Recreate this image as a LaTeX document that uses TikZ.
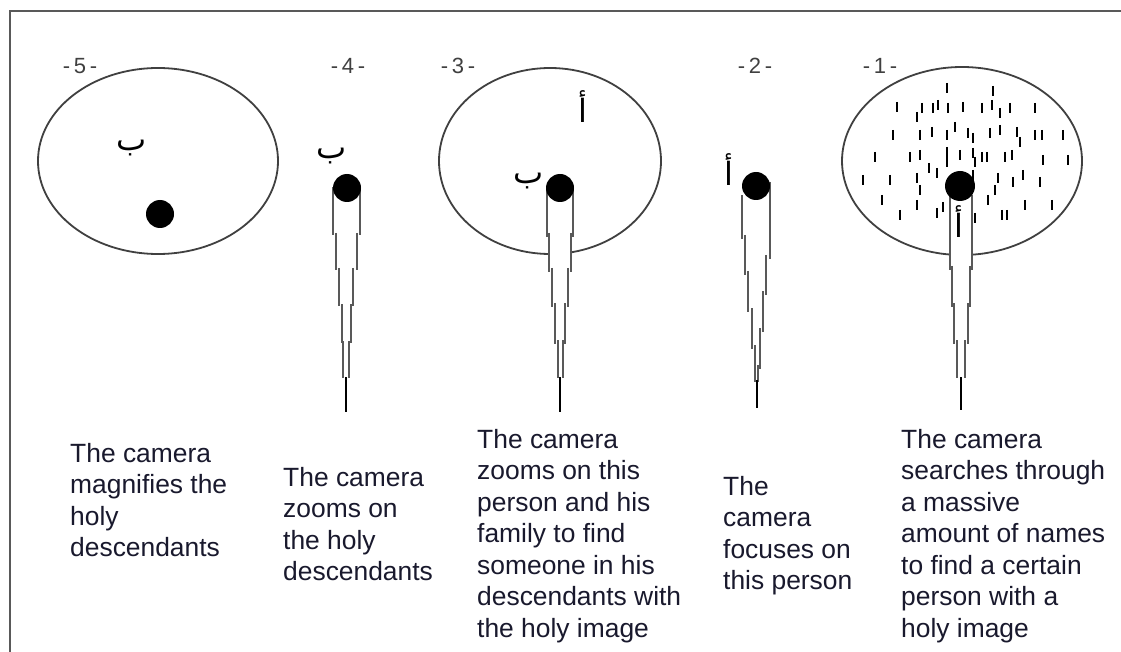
\documentclass[tikz,border=0pt]{standalone}
\usepackage{fontspec}
\setmainfont{Liberation Sans}
\newfontfamily\arabicfont[Script=Arabic]{DejaVu Sans}
\TeXXeTstate=1
\definecolor{ink}{RGB}{25,25,45}
\begin{document}
\begin{tikzpicture}[x=1pt,y=-1pt,
  outline/.style={line width=1.8pt, draw=black!75},
  stalkline/.style={line width=1.6pt, draw=black!65},
  caption/.style={anchor=north west, align=left, inner sep=0pt, font=\fontsize{26.4}{31.5}\selectfont, text=ink},
  num/.style={font=\fontsize{22}{24}\selectfont, text=black!75, inner sep=0pt},
  ar/.style={font=\arabicfont\fontsize{32}{34}\selectfont, inner sep=0pt},
  blob/.style={circle, fill=black, minimum size=28pt, inner sep=0pt},
  namemark/.style={line width=2pt, draw=black}]
\useasboundingbox (0,0) rectangle (1121,652);
\fill[white] (0,0) rectangle (1121,652);
% frame
\draw[line width=2.5pt, black!65] (10,652) -- (10,11) -- (1122,11);

% ellipses
\draw[outline] (158,161) ellipse [x radius=120, y radius=93];
\draw[outline] (550,161) ellipse [x radius=111, y radius=93];
\draw[outline] (962,161) ellipse [x radius=120, y radius=94];

% name marks inside ellipse 1
\foreach \px/\py in {947/88, 993/91,
  897/107, 917/117, 922/108, 933/108, 938/105, 948/108, 963/107, 982/108, 992/105, 1000/113, 1010/108, 1035/108,
  893/135, 920/135, 932/132, 947/135, 955/127, 968/133, 973/138, 990/133, 1000/130, 1017/132, 1020/142, 1035/135, 1042/135, 1063/135,
  875/157, 910/157, 920/155, 947/152, 947/162, 960/155, 973/153, 975/162, 982/157, 987/157, 1005/157, 1012/155, 1043/160, 1068/160,
  863/180, 890/180, 917/178, 920/190, 929/168, 937/173, 973/175, 998/178, 1013/182, 1023/175, 1040/182,
  882/200, 917/205, 943/207, 988/200, 995/190, 1025/205, 1052/205,
  900/215, 937/213, 975/218, 1002/215, 1007/215}
  \draw[namemark] (\px,\py) ++(0,-5) -- ++(0,10);

% stalk 4
\foreach \a/\b/\l/\r in {187/235/333/360, 233/270/336/357, 268/306/339/353, 304/343/342/351, 341/378/343/349}{
  \fill[white] (\l,\a) rectangle (\r,\b);
  \draw[stalkline] (\l,\a) -- (\l,\b) (\r,\a) -- (\r,\b);
}
\draw[line width=2.2pt] (346,377) -- (346,412);

% stalk 3
\foreach \a/\b/\l/\r in {190/237/547/573, 233/272/549/571, 268/307/552/568, 303/344/555/565, 340/378/558/563}{
  \fill[white] (\l,\a) rectangle (\r,\b);
  \draw[stalkline] (\l,\a) -- (\l,\b) (\r,\a) -- (\r,\b);
}
\draw[line width=2.2pt] (560,377) -- (560,412);

% stalk 2 (leaning)
\fill[white] (742,195) -- (770,185) -- (770,257) -- (766,257) -- (766,293) -- (763,293) -- (763,330) -- (760,330) -- (760,367) -- (758,367) -- (758,380) -- (755,380) -- (755,347) -- (752,347) -- (752,310) -- (748,310) -- (748,273) -- (745,273) -- (745,237) -- (742,237) -- cycle;
\foreach \a/\b/\x in {195/239/742, 235/275/745, 271/312/748, 308/349/752, 345/382/755,
                      182/259/770, 255/295/766, 291/332/763, 328/369/760, 365/382/758}{
  \draw[stalkline] (\x,\a) -- (\x,\b);
}
\draw[line width=2.2pt] (757,380) -- (757,408);

% stalk 1
\foreach \a/\b/\l/\r in {195/270/950/972, 266/307/952/970, 303/344/954/968, 340/378/957/965}{
  \fill[white] (\l,\a) rectangle (\r,\b);
  \draw[stalkline] (\l,\a) -- (\l,\b) (\r,\a) -- (\r,\b);
}
\draw[line width=2.2pt] (961,377) -- (961,410);

% dots
\node[blob] (d5) at (160,214) {};
\node[blob] (d4) at (347,188) {};
\node[blob] (d3) at (560,188) {};
\node[blob] (d2) at (756,186) {};
\node[blob, minimum size=30pt] (d1) at (960,186) {};

% letters
\node[ar] (b5) at (132,148) {\beginR ب\endR};
\node[ar] (b4) at (332,156) {\beginR ب\endR};
\node[ar] (b3) at (529,181) {\beginR ب\endR};
\node[ar] (a3) at (583,107) {\beginR أ\endR};
\node[ar] (a2) at (729,170) {\beginR أ\endR};
\node[ar] (a1) at (959,222) {\beginR أ\endR};

% numbers
\node[num] (n5) at (80,66) {-\,5\,-};
\node[num] (n4) at (348,66) {-\,4\,-};
\node[num] (n3) at (458,66) {-\,3\,-};
\node[num] (n2) at (755,66) {-\,2\,-};
\node[num] (n1) at (880,66) {-\,1\,-};

% captions
\node[caption] (c5) at (70,443) {The camera\\magnifies the\\holy\\descendants};
\node[caption] (c4) at (283,467) {The camera\\zooms on\\the holy\\descendants};
\node[caption] (c3) at (477,429) {The camera\\zooms on this\\person and his\\family to find\\someone in his\\descendants with\\the holy image};
\node[caption] (c2) at (723,476) {The\\camera\\focuses on\\this person};
\node[caption] (c1) at (901,429) {The camera\\searches through\\a massive\\amount of names\\to find a certain\\person with a\\holy image};
\end{tikzpicture}
\end{document}
